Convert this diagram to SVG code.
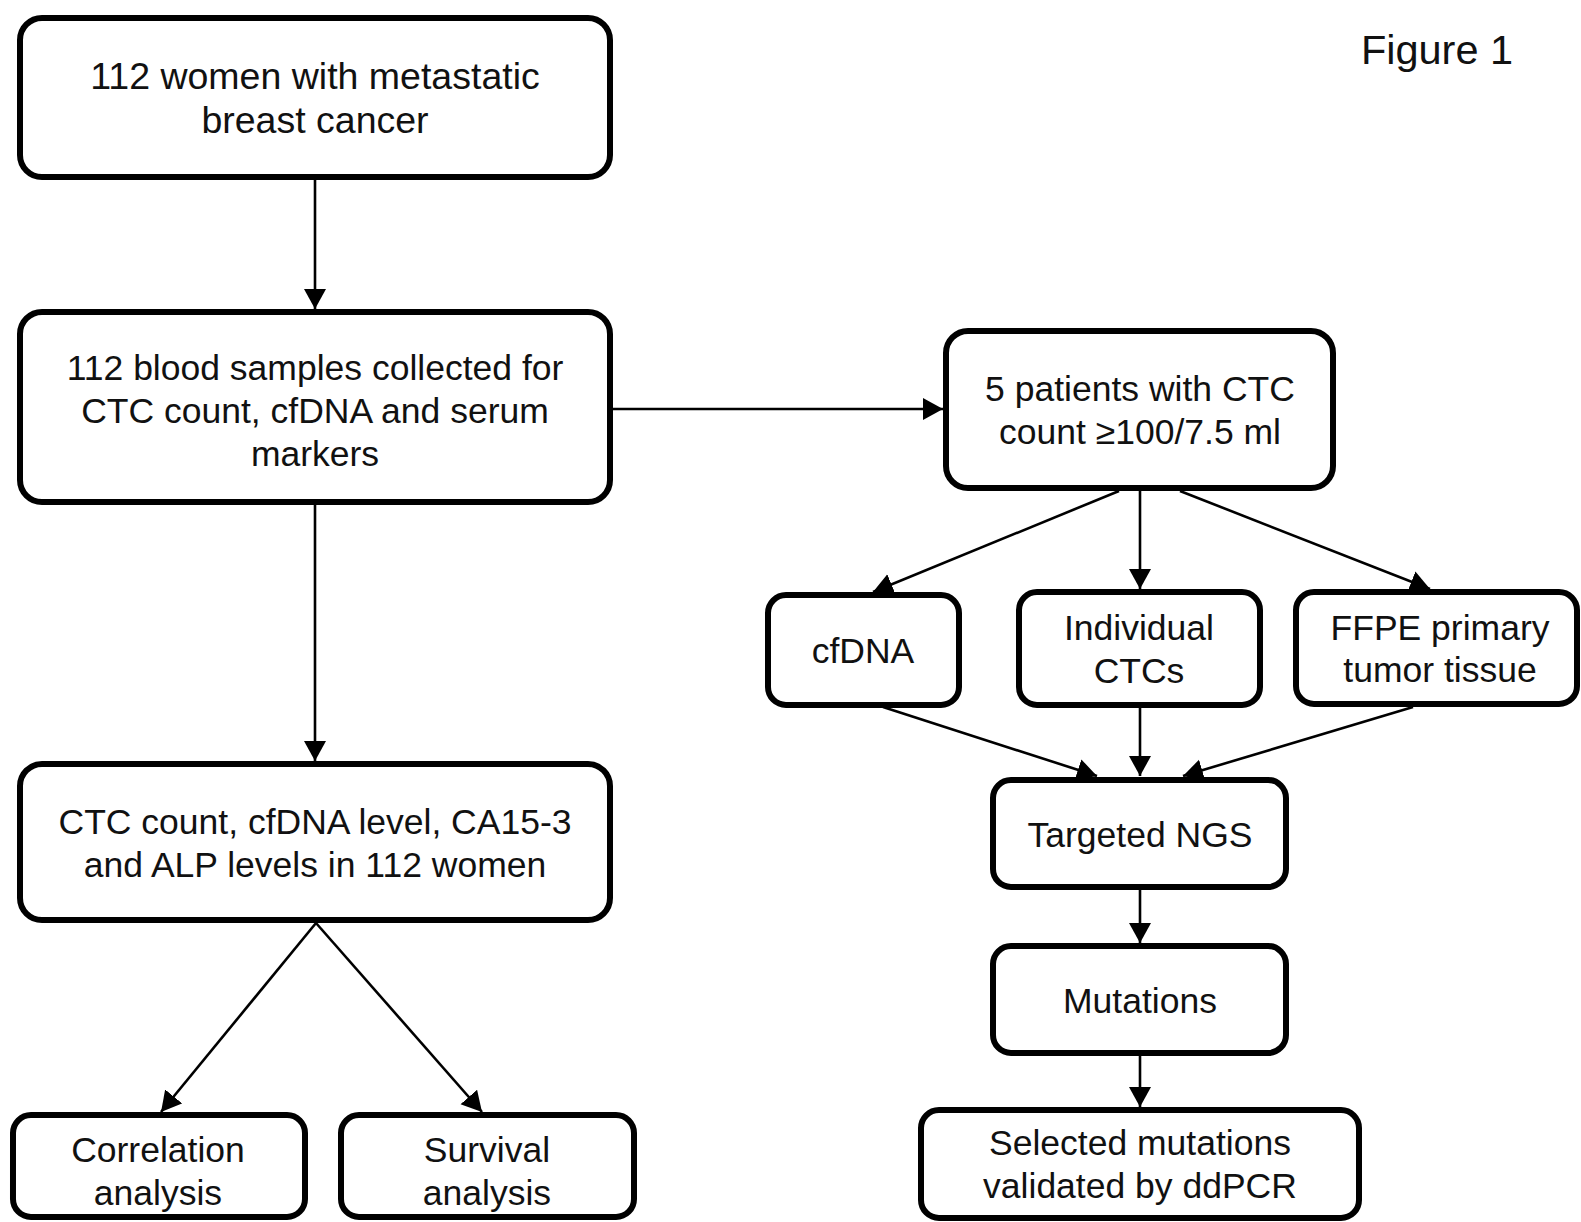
<svg xmlns="http://www.w3.org/2000/svg" width="1581" height="1222" viewBox="0 0 1581 1222">
<style>
.box{fill:#fff;stroke:#000;stroke-width:6}
.t{font-family:"Liberation Sans",Arial,sans-serif;font-size:35.5px;fill:#111;text-anchor:middle}
.big{font-size:37.5px}
.c{stroke:#000;stroke-width:2.6;fill:none}
</style>
<defs>
<marker id="ah" markerUnits="userSpaceOnUse" markerWidth="24" markerHeight="24" refX="20" refY="11" orient="auto">
<path d="M0,0 L20,11 L0,22 z" fill="#000"/>
</marker>
</defs>
<rect width="1581" height="1222" fill="#fff"/>
<g id="connectors">
<line class="c" x1="315" y1="180" x2="315" y2="309" marker-end="url(#ah)"/>
<line class="c" x1="613" y1="409" x2="943" y2="409" marker-end="url(#ah)"/>
<line class="c" x1="315" y1="504" x2="315" y2="761" marker-end="url(#ah)"/>
<line class="c" x1="316" y1="923" x2="161" y2="1112" marker-end="url(#ah)"/>
<line class="c" x1="316" y1="923" x2="482" y2="1112" marker-end="url(#ah)"/>
<line class="c" x1="1119" y1="491" x2="873" y2="592" marker-end="url(#ah)"/>
<line class="c" x1="1140" y1="491" x2="1140" y2="589" marker-end="url(#ah)"/>
<line class="c" x1="1180" y1="491" x2="1430" y2="589" marker-end="url(#ah)"/>
<line class="c" x1="883" y1="707" x2="1097" y2="776" marker-end="url(#ah)"/>
<line class="c" x1="1140" y1="707" x2="1140" y2="776" marker-end="url(#ah)"/>
<line class="c" x1="1413" y1="707" x2="1183" y2="776" marker-end="url(#ah)"/>
<line class="c" x1="1140" y1="890" x2="1140" y2="943" marker-end="url(#ah)"/>
<line class="c" x1="1140" y1="1056" x2="1140" y2="1107" marker-end="url(#ah)"/>
</g>
<g id="n1">
<rect class="box" x="20" y="18" width="590" height="159" rx="22"/>
<text class="t big" x="315" y="89">112 women with metastatic</text>
<text class="t big" x="315" y="133">breast cancer</text>
</g>
<g id="n2">
<rect class="box" x="20" y="312" width="590" height="190" rx="22"/>
<text class="t" x="315" y="380">112 blood samples collected for</text>
<text class="t" x="315" y="423">CTC count, cfDNA and serum</text>
<text class="t" x="315" y="466">markers</text>
</g>
<g id="n3">
<rect class="box" x="946" y="331" width="387" height="157" rx="22"/>
<text class="t" x="1140" y="401">5 patients with CTC</text>
<text class="t" x="1140" y="444">count ≥100/7.5 ml</text>
</g>
<g id="n4">
<rect class="box" x="20" y="764" width="590" height="156" rx="22"/>
<text class="t" x="315" y="834">CTC count, cfDNA level, CA15-3</text>
<text class="t" x="315" y="877">and ALP levels in 112 women</text>
</g>
<g id="n5">
<rect class="box" x="13" y="1115" width="292" height="102" rx="18"/>
<text class="t" x="158" y="1162">Correlation</text>
<text class="t" x="158" y="1205">analysis</text>
</g>
<g id="n6">
<rect class="box" x="341" y="1115" width="293" height="102" rx="18"/>
<text class="t" x="487" y="1162">Survival</text>
<text class="t" x="487" y="1205">analysis</text>
</g>
<g id="n7">
<rect class="box" x="768" y="595" width="191" height="110" rx="18"/>
<text class="t" x="863" y="663">cfDNA</text>
</g>
<g id="n8">
<rect class="box" x="1019" y="592" width="241" height="113" rx="18"/>
<text class="t" x="1139" y="640">Individual</text>
<text class="t" x="1139" y="683">CTCs</text>
</g>
<g id="n9">
<rect class="box" x="1296" y="592" width="281" height="112" rx="18"/>
<text class="t" x="1440" y="640">FFPE primary</text>
<text class="t" x="1440" y="682">tumor tissue</text>
</g>
<g id="n10">
<rect class="box" x="993" y="780" width="293" height="107" rx="18"/>
<text class="t" x="1140" y="847">Targeted NGS</text>
</g>
<g id="n11">
<rect class="box" x="993" y="946" width="293" height="107" rx="18"/>
<text class="t" x="1140" y="1013">Mutations</text>
</g>
<g id="n12">
<rect class="box" x="921" y="1110" width="438" height="108" rx="18"/>
<text class="t" x="1140" y="1155">Selected mutations</text>
<text class="t" x="1140" y="1198">validated by ddPCR</text>
</g>
<text class="t" x="1437" y="64" style="font-size:41.5px">Figure 1</text>
</svg>
